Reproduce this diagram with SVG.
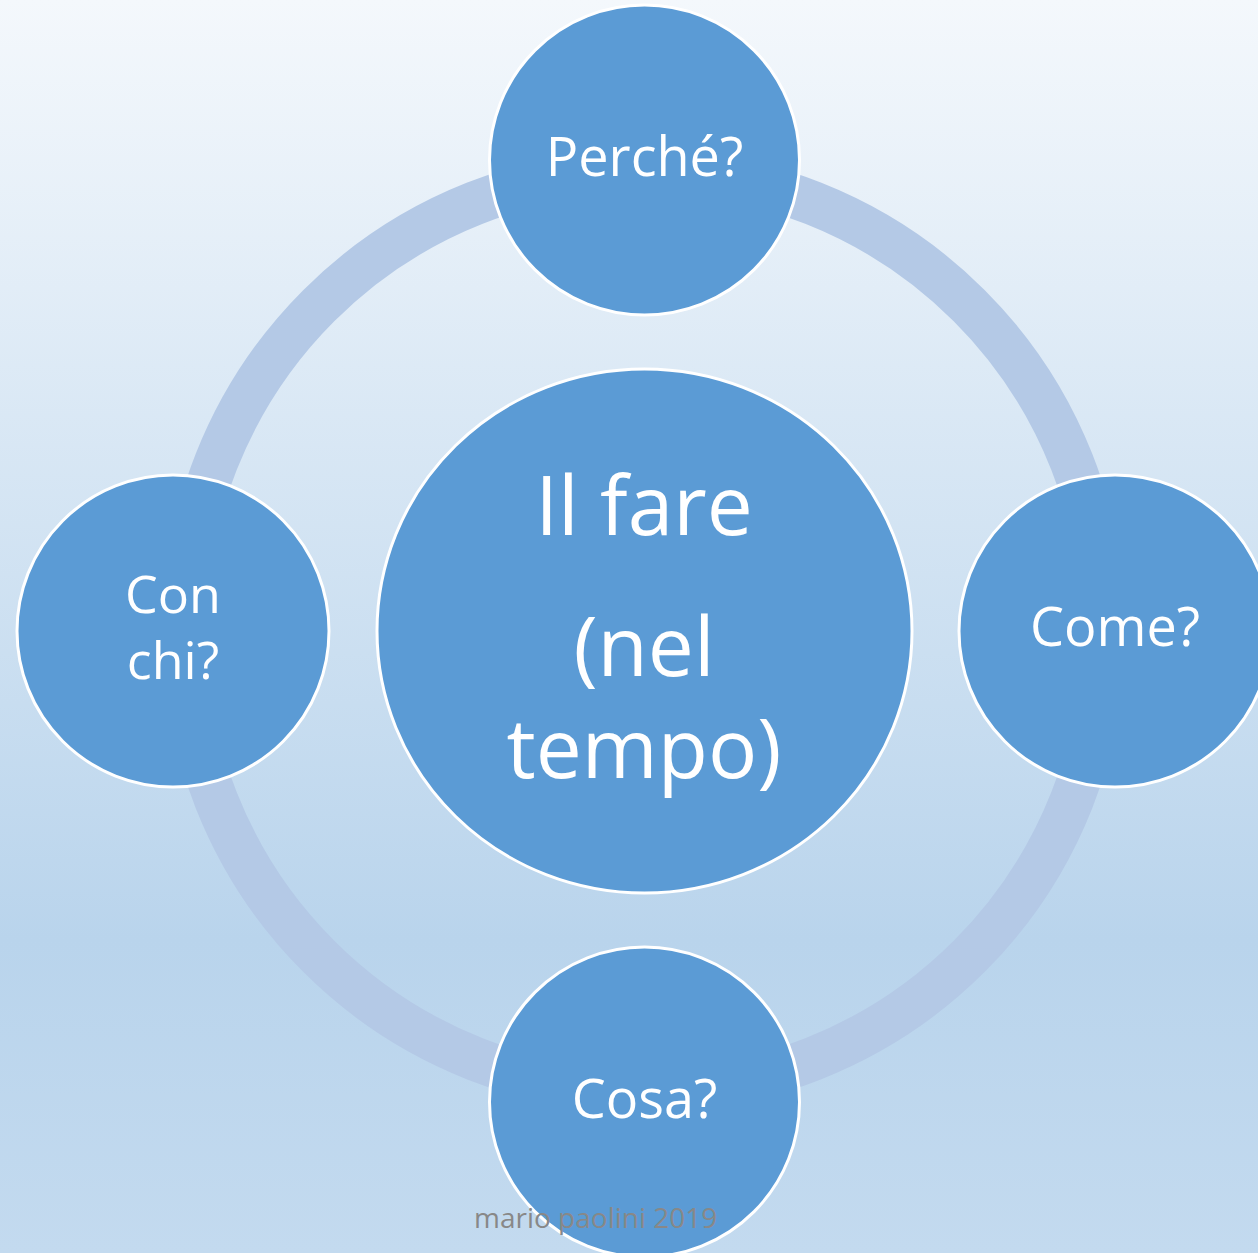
<svg xmlns="http://www.w3.org/2000/svg" width="1258" height="1253" viewBox="0 0 1258 1253">
  <defs>
    <linearGradient id="bg" x1="0" y1="0" x2="0" y2="1">
      <stop offset="0" stop-color="#f4f8fc"/>
      <stop offset="0.75" stop-color="#b9d4ec"/>
      <stop offset="1" stop-color="#c3daef"/>
    </linearGradient>
    <style>
      .node { fill: #5b9bd5; stroke: #ffffff; stroke-width: 3; }
      .lbl { font-family: "Open Sans", "Liberation Sans", sans-serif; fill: #ffffff; text-anchor: middle; }
      .sm { font-size: 54px; }
      .sm2 { font-size: 52px; }
      .big { font-size: 82px; }
      .ring { fill: none; stroke: #b4c9e6; stroke-width: 44; }
      .wm { font-family: "Open Sans", "Liberation Sans", sans-serif; font-size: 28px; fill: #888888; }
    </style>
  </defs>
  <rect x="0" y="0" width="1258" height="1253" fill="url(#bg)"/>
  <g id="connectors">
    <circle class="ring" cx="644" cy="631" r="460"/>
  </g>
  <g id="center">
    <ellipse class="node" cx="644.5" cy="631" rx="267.5" ry="262"/>
    <text class="lbl big" x="644" y="535">Il fare</text>
    <text class="lbl big" x="644" y="676">(nel</text>
    <text class="lbl big" x="644" y="778">tempo)</text>
  </g>
  <g id="perche">
    <circle class="node" cx="644.5" cy="160" r="155"/>
    <text class="lbl sm" x="644.5" y="176">Perché?</text>
  </g>
  <g id="come">
    <circle class="node" cx="1115" cy="631" r="156"/>
    <text class="lbl sm" x="1115" y="646">Come?</text>
  </g>
  <g id="cosa">
    <circle class="node" cx="644.5" cy="1102" r="155"/>
    <text class="lbl sm" x="644.5" y="1118">Cosa?</text>
  </g>
  <g id="conchi">
    <circle class="node" cx="173" cy="631" r="156"/>
    <text class="lbl sm2" x="173" y="613">Con</text>
    <text class="lbl sm2" x="173" y="679">chi?</text>
  </g>
  <text class="wm" x="474" y="1228">mario paolini 2019</text>
</svg>
